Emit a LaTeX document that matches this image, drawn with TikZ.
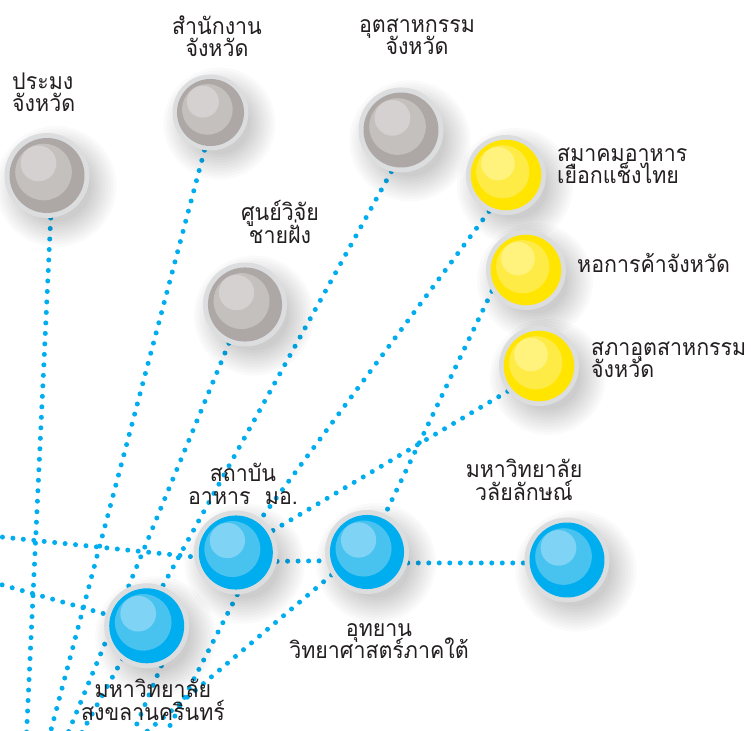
\documentclass[tikz,border=0pt]{standalone}
\usepackage{fontspec}
\newfontfamily\thai[Script=Thai,FakeStretch=0.93]{Loma}
\usetikzlibrary{backgrounds}
\definecolor{dotblue}{HTML}{00AEEF}
\definecolor{ringgrey}{HTML}{DCDDDE}
\definecolor{textdark}{HTML}{231F20}
\definecolor{greybase}{HTML}{ADA8A6}
\definecolor{greymid}{HTML}{C4C0BE}
\definecolor{greyhi}{HTML}{D5D1D0}
\definecolor{yelbase}{HTML}{FFE500}
\definecolor{yelmid}{HTML}{FFEB45}
\definecolor{yelhi}{HTML}{FFF27D}
\definecolor{bluebase}{HTML}{00AEEF}
\definecolor{bluemid}{HTML}{48C3F0}
\definecolor{bluehi}{HTML}{7FD3F5}
\newcommand\lblfont{\thai\fontsize{23}{22.5}\selectfont\setlength{\lineskiplimit}{-30pt}\setlength{\lineskip}{0pt}}
\tikzset{
  ballring/.style={circle, draw=none, fill=ringgrey, inner sep=0pt},
  shadowdisc/.style={fill=black, opacity=0.02},
  link/.style={dotblue, line width=5pt, line cap=round, dash pattern=on 0pt off 10.5pt},
  lbl/.style={font=\lblfont, text=textdark, inner sep=0pt},
}
\newcommand\ball[4]{%
  \pgfmathsetmacro\bd{2*#3}%
  \pgfmathsetmacro\rb{0.882*#3}%
  \pgfmathsetmacro\rm{0.666*#3}%
  \pgfmathsetmacro\rh{0.42*#3}%
  \pgfmathsetmacro\om{-0.082*#3}%
  \pgfmathsetmacro\ohx{-0.2*#3}%
  \pgfmathsetmacro\ohy{-0.285*#3}%
  \foreach \k in {0,...,9}{%
    \pgfmathsetmacro\rs{#3+18-2.8*\k}%
    \fill[shadowdisc] ([shift={(9,11)}]#2) circle (\rs pt);
  }
  \node[ballring, minimum size=\bd pt] (#1) at (#2) {};
  \fill[#4base] (#1.center) circle (\rb pt);
  \fill[#4mid] ([shift={(\om,\om)}]#1.center) circle (\rm pt);
  \fill[#4hi] ([shift={(\ohx,\ohy)}]#1.center) circle (\rh pt);
}
\begin{document}
\begin{tikzpicture}[x=1pt,y=-1pt]
\path[use as bounding box] (0,0) rectangle (751,730);
\clip (0,0) rectangle (751,730);

% grey nodes
\ball{pm}{47,175.5}{42.5}{grey}
\ball{sn}{210.5,112.5}{38}{grey}
\ball{ind}{401,130}{42.5}{grey}
\ball{sh}{245,304.5}{42}{grey}
% yellow nodes
\ball{sm}{506,175}{40}{yel}
\ball{hk}{526,270}{40}{yel}
\ball{spa}{539,366}{40}{yel}
% blue nodes
\ball{stb}{235.8,552.5}{42}{blue}
\ball{uty}{367,552}{42}{blue}
\ball{wl}{567,560}{42.5}{blue}
\ball{sgk}{146.7,625.8}{42.5}{blue}

% free ends
\coordinate (aEnd) at (26,745);
\coordinate (bEnd) at (47,745);
\coordinate (cEnd) at (75,745);
\coordinate (dEnd) at (63,745);
\coordinate (lOneEnd) at (160,745);
\coordinate (lTwoEnd) at (131,745);
\coordinate (lThreeEnd) at (128,745);
\coordinate (jStart) at (-8,536);
\coordinate (kStart) at (-8,582);

\begin{scope}[on background layer]
\fill[white] (0,0) rectangle (751,730);
\draw[link] (pm.275) -- (aEnd);
\draw[link] (sn.261) -- (bEnd);
\draw[link] (ind.257) -- (cEnd);
\draw[link] (sh.center) -- (dEnd);
\draw[link] (sm.245) -- (stb.center);
\draw[link] (hk.212) -- (uty.center);
\draw[link] (spa.219) -- (stb.center);
\draw[link] (stb.272) -- (lOneEnd);
\draw[link] (uty.213) -- (lTwoEnd);
\draw[link] (sgk.290) -- (lThreeEnd);
\draw[link] (stb.-12) -- (uty.192);
\draw[link] (uty.-15) -- (wl.184);
\draw[link] (jStart) -- (stb.186);
\draw[link] (kStart) -- (sgk.center);
\end{scope}

% labels
\node[lbl, anchor=west, align=left] (tpm) at (12,92) {ประมง\\จังหวัด};
\node[lbl, align=center] (tsn) at (217,36) {สำนักงาน\\จังหวัด};
\node[lbl, align=center] (tind) at (417,37) {อุตสาหกรรม\\จังหวัด};
\node[lbl, align=center] (tsh) at (280,222) {ศูนย์วิจัย\\ชายฝั่ง};
\node[lbl, anchor=west, align=left] (tsm) at (557,166) {สมาคมอาหาร\\เยือกแช็งไทย};
\node[lbl, anchor=west, align=left] (thk) at (577,263) {หอการค้าจังหวัด};
\node[lbl, anchor=west, align=left] (tspa) at (591,360) {สภาอุตสาหกรรม\\จังหวัด};
\node[lbl, align=center] (tstb) at (243,484) {สถาบัน\\อาหาร~~มอ.};
\node[lbl, align=center] (twl) at (524,480) {มหาวิทยาลัย\\วลัยลักษณ์};
\node[lbl, align=center] (tuty) at (379,641) {อุทยาน\\วิทยาศาสตร์ภาคใต้};
\node[lbl, align=center] (tsgk) at (153,700) {มหาวิทยาลัย\\สงขลานครินทร์};
\end{tikzpicture}
\end{document}
